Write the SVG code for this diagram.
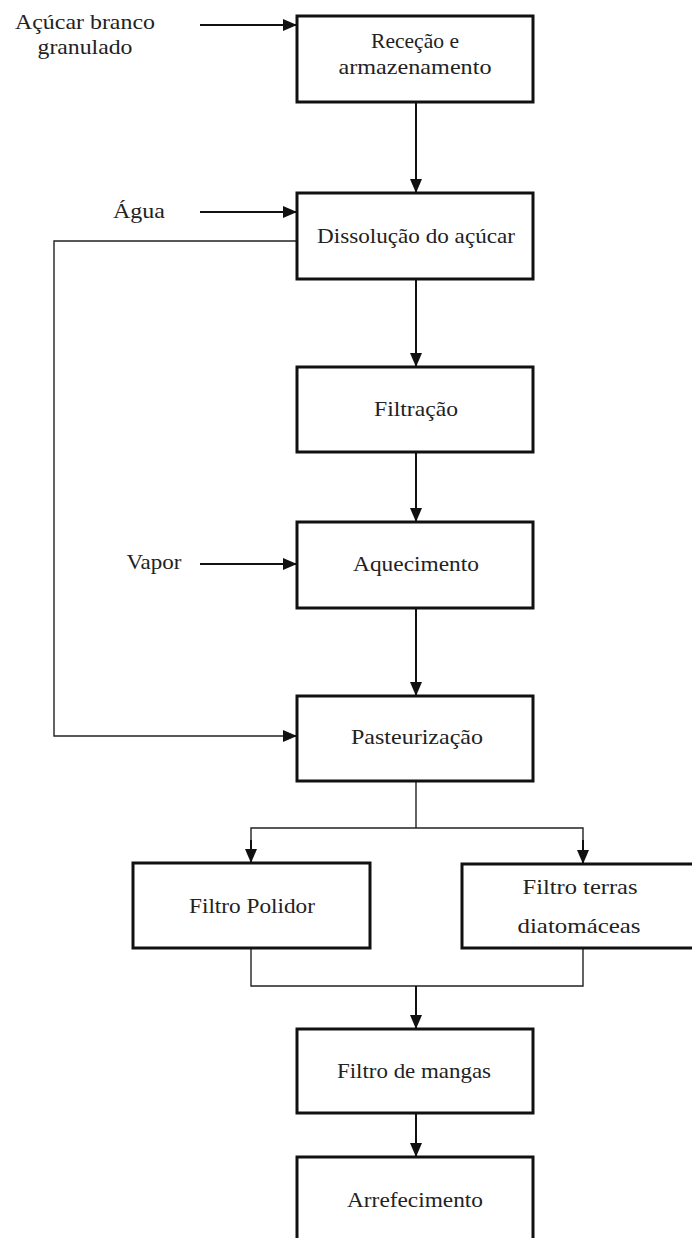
<svg xmlns="http://www.w3.org/2000/svg" width="692" height="1238" viewBox="0 0 692 1238">
<style>
.box{fill:#fff;stroke:#111;stroke-width:3}
.t{font-family:"Liberation Serif","DejaVu Serif",serif;font-size:21px;fill:#222;text-anchor:middle}
.a{fill:none;stroke:#111;stroke-width:2}
.l{fill:none;stroke:#222;stroke-width:1.4}
</style>
<defs>
<marker id="ah" markerUnits="userSpaceOnUse" markerWidth="14" markerHeight="12" viewBox="0 0 14 12" refX="14" refY="6" orient="auto">
<path d="M0,0 L14,6 L0,12 Z" fill="#111"/>
</marker>
</defs>
<rect width="692" height="1238" fill="#fff"/>
<g id="connectors">
<line class="a" x1="200" y1="25" x2="297" y2="25" marker-end="url(#ah)"/>
<line class="a" x1="416" y1="102" x2="416" y2="193" marker-end="url(#ah)"/>
<line class="a" x1="200" y1="212" x2="297" y2="212" marker-end="url(#ah)"/>
<line class="a" x1="416" y1="279" x2="416" y2="367" marker-end="url(#ah)"/>
<line class="a" x1="416" y1="452" x2="416" y2="522" marker-end="url(#ah)"/>
<line class="a" x1="200" y1="564" x2="297" y2="564" marker-end="url(#ah)"/>
<line class="a" x1="416" y1="608" x2="416" y2="696" marker-end="url(#ah)"/>
<polyline class="l" points="297,241 54,241 54,736 285,736"/>
<line class="a" x1="284" y1="736" x2="297" y2="736" marker-end="url(#ah)"/>
<polyline class="l" points="416,781 416,828"/>
<polyline class="l" points="251,863 251,828 583,828 583,863"/>
<line class="a" x1="251" y1="840" x2="251" y2="863" marker-end="url(#ah)"/>
<line class="a" x1="583" y1="840" x2="583" y2="864" marker-end="url(#ah)"/>
<polyline class="l" points="251,948 251,986 583,986 583,948"/>
<line class="a" x1="416" y1="986" x2="416" y2="1029" marker-end="url(#ah)"/>
<line class="a" x1="416" y1="1113" x2="416" y2="1157" marker-end="url(#ah)"/>
</g>
<g id="input-acucar">
<text class="t" x="85" y="29" textLength="140" lengthAdjust="spacingAndGlyphs">Açúcar branco</text>
<text class="t" x="85" y="54" textLength="95" lengthAdjust="spacingAndGlyphs">granulado</text>
</g>
<g id="input-agua"><text class="t" x="139" y="218" textLength="52" lengthAdjust="spacingAndGlyphs">Água</text></g>
<g id="input-vapor"><text class="t" x="154" y="569" textLength="55" lengthAdjust="spacingAndGlyphs">Vapor</text></g>
<g id="rececao">
<rect class="box" x="297" y="16" width="236" height="86"/>
<text class="t" x="415" y="48" textLength="88" lengthAdjust="spacingAndGlyphs">Receção e</text>
<text class="t" x="415" y="74" textLength="153" lengthAdjust="spacingAndGlyphs">armazenamento</text>
</g>
<g id="dissolucao">
<rect class="box" x="297" y="193" width="236" height="86"/>
<text class="t" x="416" y="243" textLength="198" lengthAdjust="spacingAndGlyphs">Dissolução do açúcar</text>
</g>
<g id="filtracao">
<rect class="box" x="297" y="367" width="236" height="85"/>
<text class="t" x="416" y="416" textLength="84" lengthAdjust="spacingAndGlyphs">Filtração</text>
</g>
<g id="aquecimento">
<rect class="box" x="297" y="522" width="236" height="86"/>
<text class="t" x="416" y="571" textLength="126" lengthAdjust="spacingAndGlyphs">Aquecimento</text>
</g>
<g id="pasteurizacao">
<rect class="box" x="297" y="696" width="236" height="85"/>
<text class="t" x="417" y="744" textLength="132" lengthAdjust="spacingAndGlyphs">Pasteurização</text>
</g>
<g id="filtro-polidor">
<rect class="box" x="133" y="863" width="237" height="85"/>
<text class="t" x="252" y="913" textLength="126" lengthAdjust="spacingAndGlyphs">Filtro Polidor</text>
</g>
<g id="filtro-terras">
<rect class="box" x="462" y="864" width="240" height="84"/>
<text class="t" x="580" y="894" textLength="115" lengthAdjust="spacingAndGlyphs">Filtro terras</text>
<text class="t" x="579" y="933" textLength="123" lengthAdjust="spacingAndGlyphs">diatomáceas</text>
</g>
<g id="filtro-mangas">
<rect class="box" x="297" y="1029" width="236" height="84"/>
<text class="t" x="414" y="1078" textLength="154" lengthAdjust="spacingAndGlyphs">Filtro de mangas</text>
</g>
<g id="arrefecimento">
<rect class="box" x="297" y="1157" width="236" height="90"/>
<text class="t" x="415" y="1207" textLength="136" lengthAdjust="spacingAndGlyphs">Arrefecimento</text>
</g>
</svg>
